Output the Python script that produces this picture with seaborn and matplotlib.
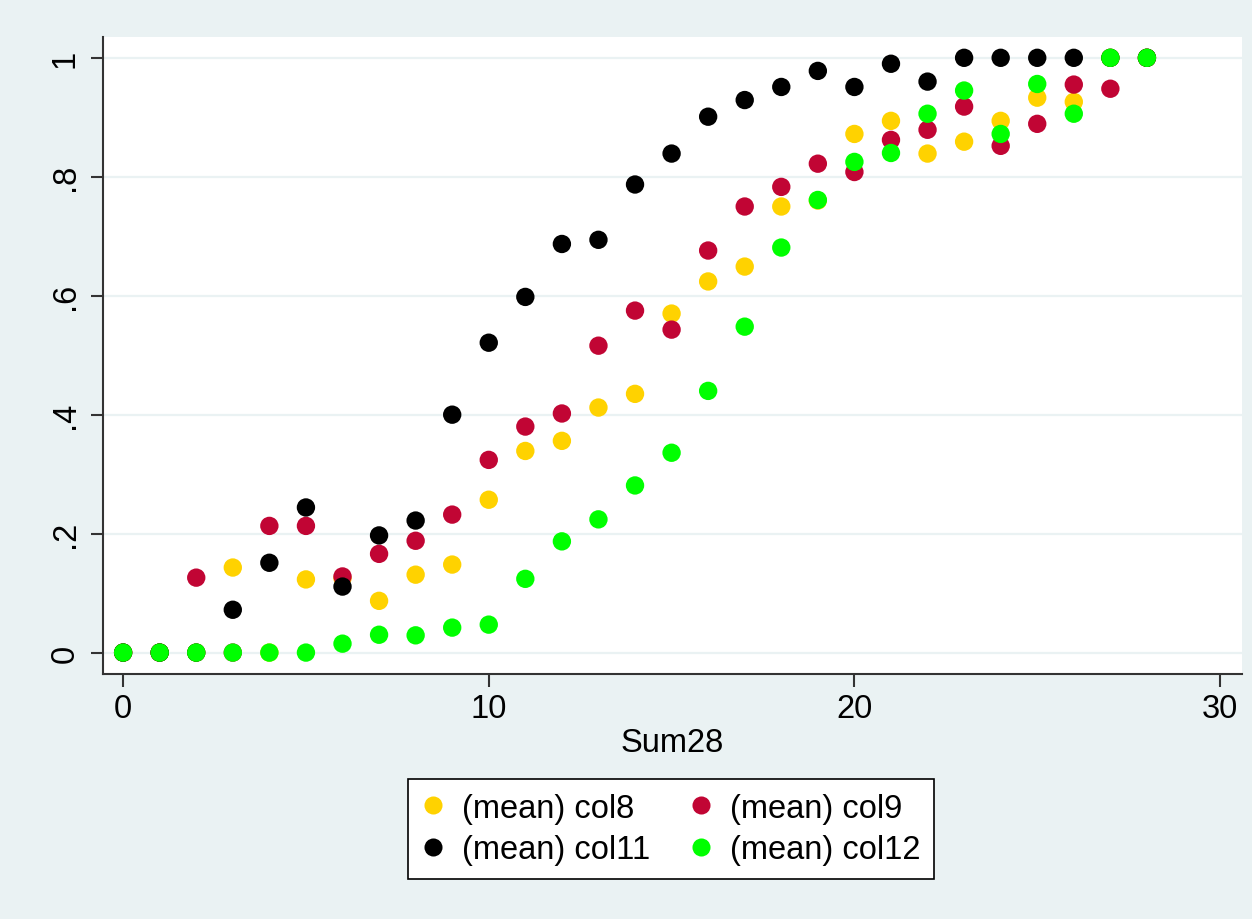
import numpy as np
import pandas as pd
import matplotlib
matplotlib.use("Agg")
import matplotlib.pyplot as plt
from matplotlib.lines import Line2D
import seaborn as sns

sum28 = list(range(0, 29))

col8 = [0, 0, 0, 0.143, 0, 0.123, 0.125, 0.087, 0.131, 0.148,
        0.257, 0.339, 0.356, 0.412, 0.435, 0.570, 0.624, 0.649, 0.750, 0.760,
        0.872, 0.894, 0.839, 0.859, 0.894, 0.933, 0.926, 1.0, 1.0]
col9 = [0, 0, 0.126, 0, 0.213, 0.213, 0.128, 0.166, 0.188, 0.232,
        0.324, 0.380, 0.402, 0.516, 0.575, 0.543, 0.676, 0.750, 0.783, 0.822,
        0.808, 0.862, 0.879, 0.918, 0.852, 0.889, 0.955, 0.948, 1.0]
col11 = [0, 0, 0, 0.072, 0.151, 0.244, 0.111, 0.197, 0.222, 0.400,
         0.521, 0.598, 0.687, 0.694, 0.787, 0.839, 0.901, 0.929, 0.951, 0.978,
         0.951, 0.990, 0.960, 1.0, 1.0, 1.0, 1.0, 1.0, 1.0]
col12 = [0, 0, 0, 0, 0, 0, 0.015, 0.030, 0.029, 0.042,
         0.047, 0.124, 0.187, 0.224, 0.281, 0.336, 0.440, 0.548, 0.681, 0.761,
         0.825, 0.840, 0.906, 0.945, 0.872, 0.956, 0.906, 1.0, 1.0]

series_names = ["(mean) col8", "(mean) col9", "(mean) col11", "(mean) col12"]
series_values = [col8, col9, col11, col12]
colors = {"(mean) col8": "#FFD200", "(mean) col9": "#C10534",
          "(mean) col11": "#000000", "(mean) col12": "#00FF00"}

xticks = [0, 10, 20, 30]
yticks = [0, 0.2, 0.4, 0.6, 0.8, 1.0]
ytick_labels = ["0", ".2", ".4", ".6", ".8", "1"]

df = pd.concat([pd.DataFrame({"Sum28": sum28, "value": v, "series": n})
                for n, v in zip(series_names, series_values)], ignore_index=True)

bg = "#EAF2F3"
sns.set_theme(style="white")
plt.rcParams["font.family"] = ["Liberation Sans", "DejaVu Sans"]
plt.rcParams["text.color"] = "black"

FS = 23.5

fig = plt.figure(figsize=(12.52, 9.2), dpi=100, facecolor=bg)
ax = fig.add_axes([103 / 1252, 1 - 675 / 920, (1242 - 103) / 1252, (675 - 38) / 920])
ax.set_facecolor("white")

sns.scatterplot(data=df, x="Sum28", y="value", hue="series", palette=colors,
                s=175, linewidth=0, legend=False, ax=ax, zorder=3)

ax.set_xlim(-0.55, 30.6)
ax.set_ylim(-0.036, 1.035)
ax.set_xticks(xticks)
ax.set_xticklabels([str(t) for t in xticks])
ax.set_yticks(yticks)
ax.set_yticklabels(ytick_labels, rotation=90, va="center")

ax.grid(axis="y", color=bg, linewidth=1.6, zorder=0)
ax.grid(axis="x", visible=False)
ax.set_axisbelow(True)

for s in ["top", "right"]:
    ax.spines[s].set_visible(False)
for s in ["left", "bottom"]:
    ax.spines[s].set_color("#333333")
    ax.spines[s].set_linewidth(1.5)

ax.tick_params(axis="both", which="major", direction="out", length=9, width=1.5,
               color="#333333", labelsize=FS, labelcolor="black", pad=5,
               bottom=True, left=True)
ax.tick_params(axis="y", pad=7)

ax.set_xlabel("Sum28", fontsize=FS, color="black", labelpad=2)
ax.set_ylabel("")

order = ["(mean) col8", "(mean) col11", "(mean) col9", "(mean) col12"]
handles = [Line2D([0], [0], marker="o", linestyle="none", markersize=13,
                  markerfacecolor=colors[n], markeredgewidth=0) for n in order]
leg = fig.legend(handles, order, loc="center", ncol=2,
                 bbox_to_anchor=(671 / 1252, 1 - 830 / 920),
                 fontsize=FS, frameon=True, fancybox=False, framealpha=1,
                 handlelength=0.7, handletextpad=0.55, columnspacing=1.2,
                 labelspacing=0.32, borderpad=0.42, borderaxespad=0,
                 labelcolor="black")
leg.get_frame().set_edgecolor("black")
leg.get_frame().set_linewidth(1.2)
leg.get_frame().set_facecolor("white")

fig.savefig("out.png", dpi=100, facecolor=bg)
